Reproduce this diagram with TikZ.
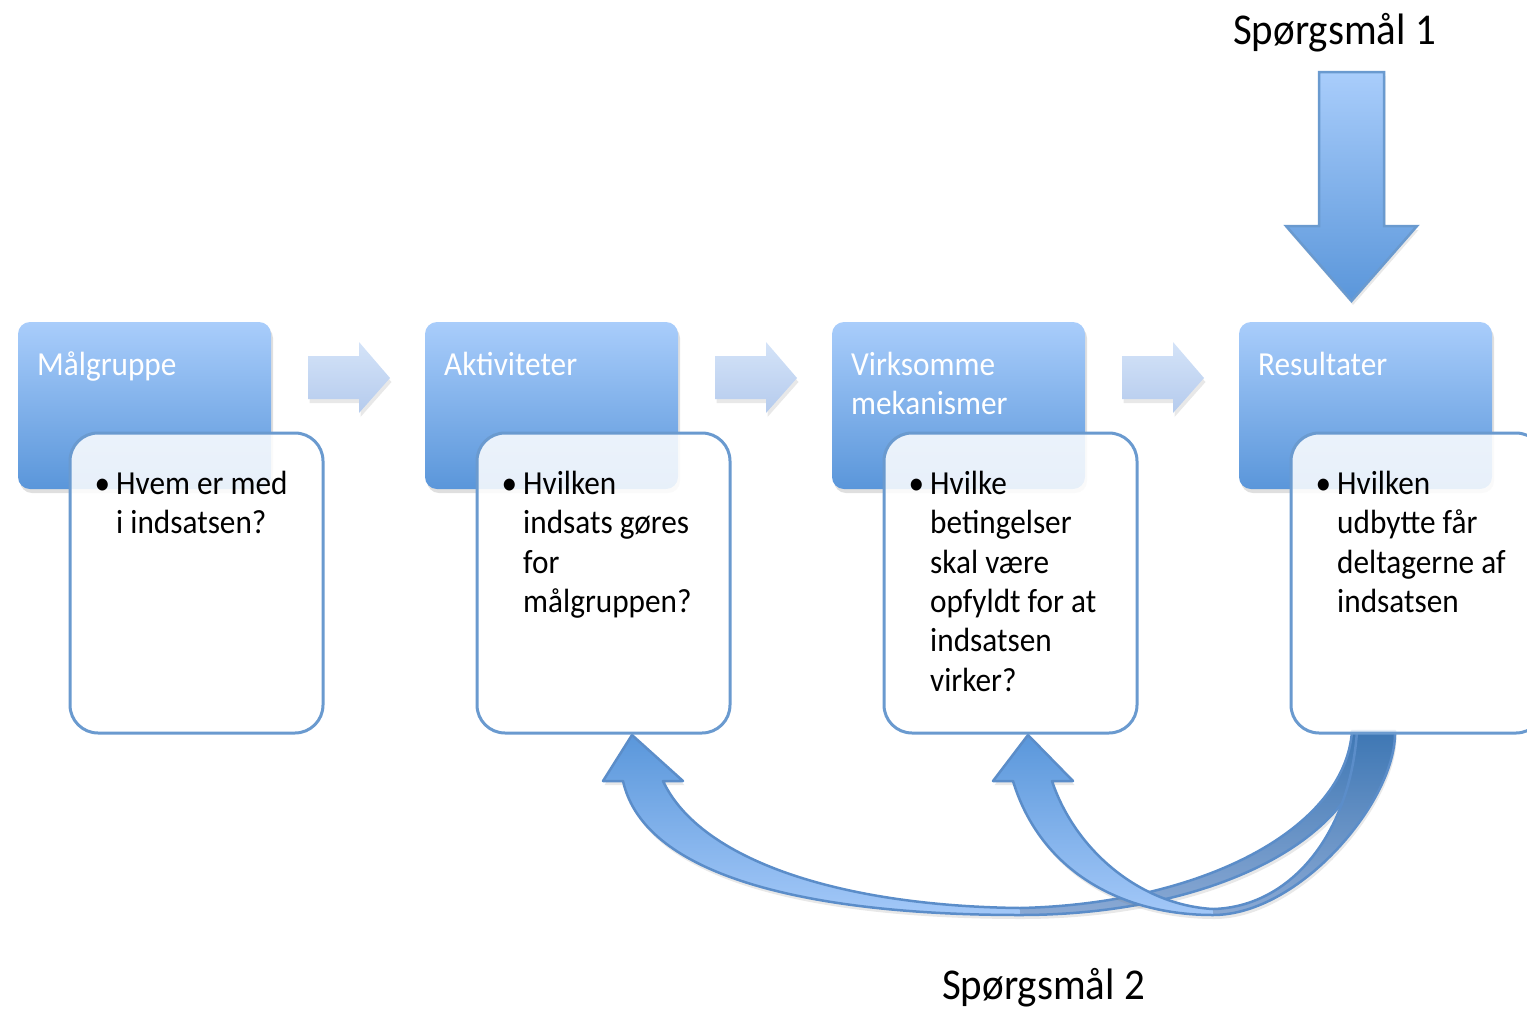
\documentclass[tikz,border=0pt]{standalone}
\usepackage{fontspec}
\setmainfont{Carlito}[FakeStretch=0.93]
\usetikzlibrary{calc,shadows}
\definecolor{boxtop}{HTML}{A9CDFB}
\definecolor{boxbot}{HTML}{5A96DA}
\definecolor{edge}{HTML}{6A9ACF}
\definecolor{sarrtop}{HTML}{D4E3F8}
\definecolor{sarrbot}{HTML}{B5CBED}
\definecolor{rlA}{HTML}{5A97DB}
\definecolor{rlB}{HTML}{A3C8F8}
\definecolor{rdA}{HTML}{3E77B4}
\definecolor{rdB}{HTML}{8AA9D4}
\definecolor{redge}{HTML}{5B8DC9}
\newcommand\bodyfont{\fontsize{33.6}{39.4}\selectfont}
\newcommand\qfont{\fontsize{44}{52}\selectfont}
\tikzset{
  softshadow/.style={drop shadow={shadow xshift=1.5pt, shadow yshift=-4pt, opacity=0.18}},
  bluebox/.style={rounded corners=12pt, minimum width=253pt, minimum height=167pt, inner sep=0pt,
    top color=boxtop, bottom color=boxbot, draw=none,
    drop shadow={shadow xshift=2pt, shadow yshift=-4pt, opacity=0.25}},
  whitebox/.style={rounded corners=28pt, minimum width=253pt, minimum height=300pt, inner sep=0pt,
    fill=white, fill opacity=0.86, draw=edge, draw opacity=1, line width=3pt},
  headtxt/.style={anchor=north west, inner sep=0pt, align=left, text=white, font=\bodyfont},
  bodytxt/.style={anchor=north west, inner sep=0pt, align=left, text=black, font=\bodyfont},
  bul/.style={anchor=base, inner sep=0pt, font=\bodyfont},
  qtxt/.style={anchor=base, inner sep=0pt, font=\qfont},
  smallarrow/.style={top color=sarrtop, bottom color=sarrbot, draw=none, softshadow},
  bigarrow/.style={top color=boxtop, bottom color=boxbot, draw=edge, line width=2.5pt, line join=miter, softshadow},
  ribedge/.style={draw=redge, line width=2.5pt, line join=round},
}
\begin{document}
\begin{tikzpicture}[x=1pt,y=-1pt]
\useasboundingbox (0,0) rectangle (1527,1010);

% blue header boxes
\node[bluebox] (b1) at (144.5,405.5) {};
\node[bluebox] (b2) at (551.5,405.5) {};
\node[bluebox] (b3) at (958.5,405.5) {};
\node[bluebox] (b4) at (1365.5,405.5) {};

% small right arrows
\foreach \dx in {0,407,814}{
  \path[smallarrow, xshift=\dx] (308,356) -- (359,356) -- (359,342) -- (390,378) -- (359,413) -- (359,399) -- (308,399) -- cycle;
}

% question 1 and big down arrow
\node[qtxt] (q1) at (1334.5,44) {Spørgsmål 1};
\path[bigarrow] (1319,72) -- (1384,72) -- (1384,226) -- (1417,226) -- (1351.5,301) -- (1286,226) -- (1319,226) -- cycle;

% ribbon 1 (Resultater -> Aktiviteter)
\fill[top color=rlA, bottom color=rlB, softshadow] (603,781) -- (632,735) -- (683,781) -- (663,781)
  .. controls (700,860) and (840,906) .. (1020,908) -- (1020,915)
  .. controls (820,915) and (645,880) .. (623,781) -- cycle;
\fill[top color=rdA, bottom color=rdB, softshadow] (1020,908) .. controls (1200,904) and (1345,830) .. (1352,731)
  -- (1370,731) .. controls (1365,840) and (1210,915) .. (1020,915) -- cycle;
\path[ribedge] (603,781) -- (632,735) -- (683,781) -- (663,781)
  .. controls (700,860) and (840,906) .. (1020,908)
  .. controls (1200,904) and (1345,830) .. (1352,731)
  -- (1370,731) .. controls (1365,840) and (1210,915) .. (1020,915)
  .. controls (820,915) and (645,880) .. (623,781) -- cycle;

% ribbon 2 (Resultater -> Virksomme mekanismer)
\fill[top color=rlA, bottom color=rlB, softshadow] (993,781) -- (1028,735) -- (1073,781) -- (1052,781)
  .. controls (1075,850) and (1140,905) .. (1213,909) -- (1213,915)
  .. controls (1120,915) and (1040,870) .. (1013,781) -- cycle;
\fill[top color=rdA, bottom color=rdB, softshadow] (1213,909) .. controls (1290,907) and (1350,835) .. (1357,731)
  -- (1395,731) .. controls (1397,800) and (1300,915) .. (1213,915) -- cycle;
\path[ribedge] (993,781) -- (1028,735) -- (1073,781) -- (1052,781)
  .. controls (1075,850) and (1140,905) .. (1213,909)
  .. controls (1290,907) and (1350,835) .. (1357,731)
  -- (1395,731) .. controls (1397,800) and (1300,915) .. (1213,915)
  .. controls (1120,915) and (1040,870) .. (1013,781) -- cycle;

% white detail boxes
\node[whitebox] (w1) at (196.5,583) {};
\node[whitebox] (w2) at (603.5,583) {};
\node[whitebox] (w3) at (1010.5,583) {};
\node[whitebox] (w4) at (1417.5,583) {};

% header texts
\node[headtxt] (h1) at (37,347.42) {\strut Målgruppe};
\node[headtxt] (h2) at (444,347.42) {\strut Aktiviteter};
\node[headtxt] (h3) at (851,347.42) {\strut Virksomme\\mekanismer};
\node[headtxt] (h4) at (1258,347.42) {\strut Resultater};

% bullets and body texts
\node[bul] (u1) at (102.5,494) {•};
\node[bul] (u2) at (509.5,494) {•};
\node[bul] (u3) at (916.5,494) {•};
\node[bul] (u4) at (1323.5,494) {•};
\node[bodytxt] (t1) at (116,466.42) {\strut Hvem er med\\i indsatsen?};
\node[bodytxt] (t2) at (523,466.42) {\strut Hvilken\\indsats gøres\\for\\målgruppen?};
\node[bodytxt] (t3) at (930,466.42) {\strut Hvilke\\betingelser\\skal være\\opfyldt for at\\indsatsen\\virker?};
\node[bodytxt] (t4) at (1337,466.42) {\strut Hvilken\\udbytte får\\deltagerne af\\indsatsen};

% question 2
\node[qtxt] (q2) at (1043.5,999) {Spørgsmål 2};
\end{tikzpicture}
\end{document}
